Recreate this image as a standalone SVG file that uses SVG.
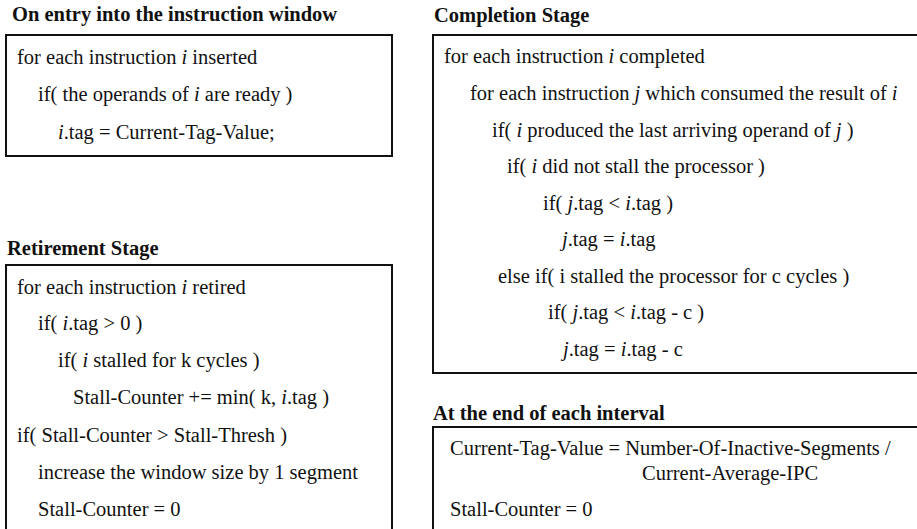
<svg xmlns="http://www.w3.org/2000/svg" width="917" height="529" viewBox="0 0 917 529">
<style>
text{font-family:"Liberation Serif","Times New Roman",serif;font-size:20.5px;fill:#111}
.h{font-weight:bold}
.i{font-style:italic}
.box{fill:#fff;stroke:#111;stroke-width:2}
</style>
<rect width="917" height="529" fill="#fff"/>
<g id="entry">
<text class="h" x="12" y="21">On entry into the instruction window</text>
<rect class="box" x="6" y="35" width="386" height="121"/>
<text x="17" y="64">for each instruction <tspan class="i">i</tspan> inserted</text>
<text x="38" y="101">if( the operands of <tspan class="i">i</tspan> are ready )</text>
<text x="58" y="139"><tspan class="i">i</tspan>.tag = Current-Tag-Value;</text>
</g>
<g id="completion">
<text class="h" x="434" y="22">Completion Stage</text>
<rect class="box" x="433" y="35" width="500" height="338"/>
<text x="444" y="63">for each instruction <tspan class="i">i</tspan> completed</text>
<text x="470" y="100">for each instruction <tspan class="i">j</tspan> which consumed the result of <tspan class="i">i</tspan></text>
<text x="492" y="137">if( <tspan class="i">i</tspan> produced the last arriving operand of <tspan class="i">j</tspan> )</text>
<text x="507" y="173">if( <tspan class="i">i</tspan> did not stall the processor )</text>
<text x="543" y="210">if( <tspan class="i">j</tspan>.tag &lt; <tspan class="i">i</tspan>.tag )</text>
<text x="562" y="246"><tspan class="i">j</tspan>.tag = <tspan class="i">i</tspan>.tag</text>
<text x="498" y="283">else if( i stalled the processor for c cycles )</text>
<text x="548" y="319">if( <tspan class="i">j</tspan>.tag &lt; <tspan class="i">i</tspan>.tag - c )</text>
<text x="563" y="356"><tspan class="i">j</tspan>.tag = <tspan class="i">i</tspan>.tag - c</text>
</g>
<g id="retirement">
<text class="h" x="7" y="255">Retirement Stage</text>
<rect class="box" x="6" y="265" width="386" height="280"/>
<text x="17" y="294">for each instruction <tspan class="i">i</tspan> retired</text>
<text x="38" y="330">if( <tspan class="i">i</tspan>.tag &gt; 0 )</text>
<text x="58" y="367">if( <tspan class="i">i</tspan> stalled for k cycles )</text>
<text x="73" y="404">Stall-Counter += min( k, <tspan class="i">i</tspan>.tag )</text>
<text x="17" y="442">if( Stall-Counter &gt; Stall-Thresh )</text>
<text x="38" y="479">increase the window size by 1 segment</text>
<text x="38" y="516">Stall-Counter = 0</text>
</g>
<g id="interval">
<text class="h" x="433" y="420">At the end of each interval</text>
<rect class="box" x="433" y="427" width="500" height="120"/>
<text x="450" y="455">Current-Tag-Value = Number-Of-Inactive-Segments /</text>
<text x="642" y="480">Current-Average-IPC</text>
<text x="450" y="516">Stall-Counter = 0</text>
</g>
<g id="connectors"/>
</svg>
